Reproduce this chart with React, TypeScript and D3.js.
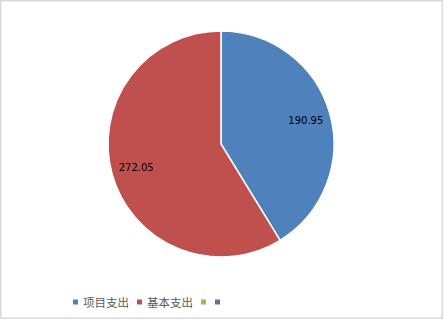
import React from "react";
import * as d3 from "d3";

const categories = ["项目支出", "基本支出", "", ""];
const values = [190.95, 272.05];
const colors = ["#4F81BD", "#C0504D", "#9BBB59", "#8064A2"];

const W = 444;
const H = 320;
const cx = 221;
const cy = 144;
const R = 113;

export default function App() {
  const pie = d3
    .pie<number>()
    .sort(null)
    .value((d) => d);
  const arcs = pie(values);
  const arcGen = d3.arc<d3.PieArcDatum<number>>().innerRadius(0).outerRadius(R);
  const labelArc = d3
    .arc<d3.PieArcDatum<number>>()
    .innerRadius(R * 0.78)
    .outerRadius(R * 0.78);

  // legend layout: square, gap, text, gap
  const legendY = 302;
  let x = 73;
  const fontSize = 11.5;
  const items = categories.map((c, i) => {
    const item = { x, label: c, color: colors[i] };
    x += 5 + (c ? 5 + c.length * fontSize + 8 : 9);
    return item;
  });

  return (
    <svg
      width={W}
      height={H}
      style={{ position: "absolute", left: 0, top: 0, background: "#fff" }}
    >
      <rect
        x={0.75}
        y={0.75}
        width={441.5}
        height={317.5}
        fill="#fff"
        stroke="#D9D9D9"
        strokeWidth={1.5}
      />
      <g transform={`translate(${cx},${cy})`}>
        {arcs.map((a, i) => (
          <path
            key={i}
            d={arcGen(a) ?? ""}
            fill={colors[i]}
            stroke="#fff"
            strokeWidth={1.5}
          />
        ))}
        {arcs.map((a, i) => {
          const [lx, ly] = labelArc.centroid(a);
          return (
            <text
              key={i}
              x={lx}
              y={ly}
              textAnchor="middle"
              dominantBaseline="central"
              fontFamily="DejaVu Sans, sans-serif"
              fontSize={10}
              fill="#000"
            >
              {values[i].toFixed(2)}
            </text>
          );
        })}
      </g>
      <g>
        {items.map((it, i) => (
          <g key={i}>
            <rect x={it.x} y={legendY - 2.5} width={5} height={5} fill={it.color} />
            {it.label && (
              <text
                x={it.x + 10}
                y={legendY}
                dominantBaseline="central"
                fontFamily="Noto Sans CJK SC, sans-serif"
                fontSize={fontSize}
                fill="#595959"
              >
                {it.label}
              </text>
            )}
          </g>
        ))}
      </g>
    </svg>
  );
}
